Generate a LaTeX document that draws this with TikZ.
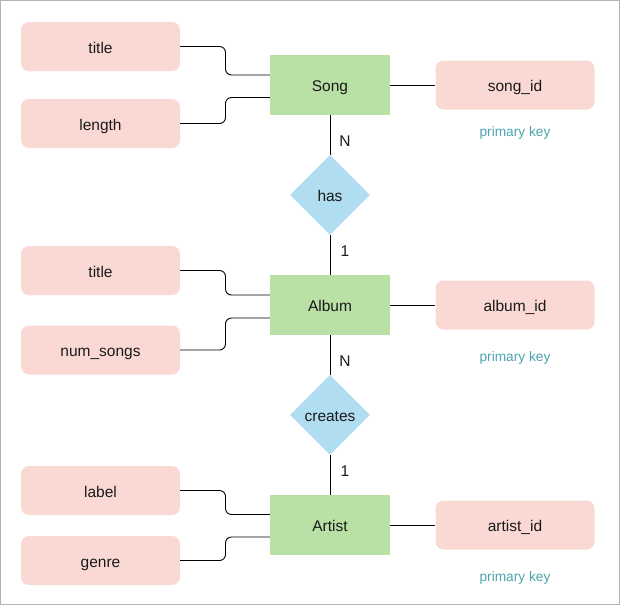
\documentclass[tikz,border=0pt]{standalone}
\usepackage{fontspec}
\setmainfont{Liberation Sans}
\usetikzlibrary{shapes.geometric}
\definecolor{attrpink}{HTML}{FAD9D5}
\definecolor{entgreen}{HTML}{B9E0A5}
\definecolor{relblue}{HTML}{B1DDF0}
\definecolor{pkteal}{RGB}{75,163,176}
\definecolor{framegray}{HTML}{B3B3B3}
\definecolor{txt}{HTML}{1A1A1A}
\begin{document}
\begin{tikzpicture}[x=1pt,y=-1pt,
  lbl/.style={text=txt,font=\fontsize{15.5}{18}\selectfont,text height=13.5pt,text depth=0pt},
  attr/.style={lbl,rectangle,rounded corners=8pt,fill=attrpink,draw=none,minimum width=159pt,minimum height=49pt,inner sep=0pt},
  ent/.style={lbl,rectangle,fill=entgreen,draw=none,minimum width=120pt,minimum height=60pt,inner sep=0pt},
  rel/.style={lbl,diamond,fill=relblue,draw=none,minimum width=80pt,minimum height=80pt,inner sep=0pt,aspect=1},
  pk/.style={text=pkteal,inner sep=0pt,anchor=base,font=\fontsize{13.7}{16}\selectfont},
  card/.style={text=txt,inner sep=0pt,font=\fontsize{15.5}{18}\selectfont,text height=12pt,text depth=0pt},
  conn/.style={draw=black,line width=0.9pt},
  elbow/.style={draw=black,line width=0.9pt,rounded corners=6pt}]
\useasboundingbox (0,0) rectangle (621,606);
\draw[framegray,line width=1pt] (0.5,0.5) rectangle (619.5,604.5);

% entities
\node[ent] (song) at (330,85) {Song};
\node[ent] (album) at (330,305) {Album};
\node[ent] (artist) at (330,525) {Artist};

% relationships
\node[rel] (has) at (330,195) {has};
\node[rel] (creates) at (330,415) {creates};

% attributes left
\node[attr] (title1) at (100.5,46.5) {title};
\node[attr] (length) at (100.5,123.5) {length};
\node[attr] (title2) at (100.5,270.5) {title};
\node[attr] (numsongs) at (100.5,350) {num\_songs};
\node[attr] (label) at (100.5,490.5) {label};
\node[attr] (genre) at (100.5,560.5) {genre};

% attributes right
\node[attr] (songid) at (515,85) {song\_id};
\node[attr] (albumid) at (515,305) {album\_id};
\node[attr] (artistid) at (515,525) {artist\_id};

\node[pk] (pk1) at (515,136.5) {primary key};
\node[pk] (pk2) at (515,361.5) {primary key};
\node[pk] (pk3) at (515,581.5) {primary key};

% cardinalities
\node[card] (n1) at (345,140) {N};
\node[card] (o1) at (345,250) {1};
\node[card] (n2) at (345,360) {N};
\node[card] (o2) at (345,470) {1};

% connectors left (orthogonal, rounded)
\draw[elbow] (title1.east) -- (225.5,46.5) -- (225.5,75) -- (song.west |- 0,75);
\draw[elbow] (length.east) -- (225.5,123.5) -- (225.5,97.5) -- (song.west |- 0,97.5);
\draw[elbow] (title2.east) -- (225.5,270.5) -- (225.5,295) -- (album.west |- 0,295);
\draw[elbow] (numsongs.east) -- (225.5,350) -- (225.5,318) -- (album.west |- 0,318);
\draw[elbow] (label.east) -- (225.5,490.5) -- (225.5,514.5) -- (artist.west |- 0,514.5);
\draw[elbow] (genre.east) -- (225.5,560.5) -- (225.5,537) -- (artist.west |- 0,537);

% connectors right
\draw[conn] (song.east) -- (songid.west);
\draw[conn] (album.east) -- (albumid.west);
\draw[conn] (artist.east) -- (artistid.west);

% vertical connectors
\draw[conn] (song.south) -- (has.north);
\draw[conn] (has.south) -- (album.north);
\draw[conn] (album.south) -- (creates.north);
\draw[conn] (creates.south) -- (artist.north);
\end{tikzpicture}
\end{document}
